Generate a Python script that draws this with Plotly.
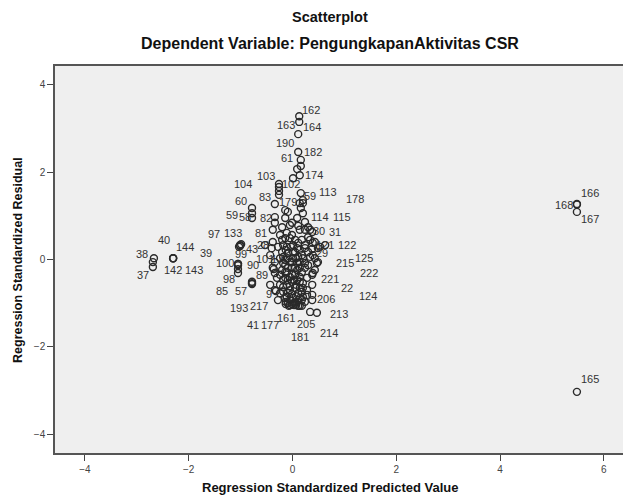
import plotly.graph_objects as go

# ---- labelled cases (case id, standardized predicted value, standardized residual)
labeled_cases = ["162","163","164","190","182","61","174","103","102","104","83","59","113","178","179",
                 "60","59","58","82","81","114","115","30","31","121","122","29","97","133","43","39","28",
                 "99","100","90","98","101","17","89","57","85","193","9","217","125","215","222","221",
                 "22","124","206","213","214","205","181","161","177","41","38","40","37","144","142","143",
                 "166","168","167","165"]
labeled_pred = [0.13,0.13,0.11,0.11,0.16,0.16,0.14,0.01,-0.26,-0.26,-0.26,0.16,0.20,0.20,0.14,
                -0.78,-0.78,-0.78,-0.34,-0.38,0.24,0.30,0.34,0.38,0.39,0.49,0.47,-1.01,-0.99,-1.01,-1.03,-0.38,
                -1.05,-1.05,-1.05,-1.05,-0.38,-0.18,-0.36,-0.78,-0.78,-0.78,-0.34,-0.32,0.49,0.43,0.39,0.38,
                0.38,0.38,0.18,0.47,0.34,0.18,0.11,-0.05,-0.13,-0.09,-2.67,-2.69,-2.69,-2.30,-2.30,-2.30,
                5.48,5.48,5.48,5.48]
labeled_resid = [3.28,3.15,2.87,2.46,2.28,2.14,1.93,1.86,1.73,1.66,1.48,1.52,1.36,1.29,1.29,
                 1.18,1.06,0.95,0.97,0.68,0.86,0.74,0.68,0.63,0.38,0.26,-0.08,0.33,0.35,0.31,0.29,0.40,
                 -0.13,-0.10,-0.22,-0.31,-0.19,0.06,-0.22,-0.51,-0.54,-0.56,-0.70,-0.72,-0.06,-0.24,-0.31,-0.35,
                 -0.58,-0.81,-0.93,-1.22,-1.20,-1.06,-1.06,-1.04,-1.02,-0.99,0.03,-0.06,-0.17,0.03,0.03,0.03,
                 1.27,1.26,1.09,-3.03]

# ---- unlabelled cases
other_pred = [0.09,-0.26,-0.34,-0.14,-0.09,0.16,0.20,-0.34,-0.14,-0.20,-0.01,0.09,0.14,-0.11,-0.05,0.05,
              0.01,-0.28,-0.53,0.24,-0.14,0.30,0.11,0.53,-0.40,-0.11,0.09,0.24,0.38,-0.09,0.01,0.09,-0.01,
              -0.11,0.05,0.18,0.24,0.30,0.28,0.14,-0.01,-0.11,0.05,0.18,0.28,-0.09,-0.18,0.01,0.11,-0.34,
              -0.30,-0.24,0.28,0.03,-0.01,0.07,0.14,-0.07,0.03,-0.14,-0.05,0.11,0.14,-0.14,0.05,0.14,-0.05,
              -0.14,0.09,0.20,-0.18,-0.05,0.11,-0.14,0.20,-0.24,-0.20,0.34,-0.20,0.05,0.18,0.30,-0.01,0.18,
              -0.20,-0.24,0.24,-0.05,0.11,0.34,0.43,0.63,0.39,0.43,-0.18,-0.43,-0.34,-0.24,-0.43,-0.28,0.38,
              0.24,-1.05,
              -0.09,-0.01,0.07,-0.09,0.09,-0.01,-0.14,0.14,0.03,-0.09,0.07,-0.05,0.14,-0.01,-0.11,0.07,
              0.14,-0.05,-0.13,0.09,0.01,0.14,-0.13,-0.03,0.20,0.24,-0.18,-0.24,0.20,-0.18]
other_resid = [2.07,1.57,1.27,1.13,1.09,1.18,1.06,0.84,0.95,0.74,0.84,0.95,0.68,0.61,0.49,0.45,
               0.33,0.29,0.33,0.33,0.49,0.51,0.38,0.29,0.26,0.29,0.26,0.26,0.24,0.15,0.03,-0.08,-0.19,
               -0.29,-0.35,-0.29,-0.19,-0.13,-0.42,-0.51,-0.51,-0.58,-0.65,-0.74,-0.81,-0.77,-0.74,-0.88,-0.93,-0.31,
               -0.42,-0.77,-0.70,-1.04,-1.02,-1.04,-1.06,-1.06,-0.99,-0.01,-0.06,0.06,-0.06,-0.13,-0.19,-0.19,-0.40,
               -0.42,-0.47,-0.54,-0.63,-0.70,-0.77,-0.88,-0.86,-0.58,-0.24,0.06,0.17,0.17,0.10,0.17,0.56,0.45,
               0.45,0.56,0.68,0.79,0.77,0.45,0.40,0.33,0.10,0.03,0.33,0.10,-0.06,0.03,-0.58,-0.93,-0.93,
               -0.97,-0.10,
               0.03,-0.06,0.03,-0.19,-0.24,-0.33,-0.29,-0.40,-0.47,-0.47,-0.58,-0.61,-0.65,-0.79,-0.86,-0.84,
               -0.88,-0.93,-0.97,-0.97,0.17,0.22,0.22,0.29,0.03,-0.08,-0.08,-0.35,-0.65,-0.47]

x_ticks = [-4, -2, 0, 2, 4, 6]
y_ticks = [-4, -2, 0, 2, 4]

# label offsets in pixels (dx right, dy down) -- styling only
label_offsets = [(12,-6),(-13,3),(14,-7),(-13,-9),(12,-8),(-14,-8),(14,0),(-27,-2),(12,0),(-36,-3),(-14,2),
                 (9,3),(25,-8),(52,-4),(-12,-1),(-11,-7),(-20,2),(-7,-1),(-9,1),(-12,3),(15,-5),(34,-10),
                 (9,1),(23,0),(12,2),(29,-3),(5,-10),(-26,-11),(-8,-11),(12,3),(-33,6),(-10,3),(3,-11),
                 (-13,-1),(15,-4),(-9,6),(-8,-9),(-6,2),(-12,6),(-11,9),(-30,8),(-13,24),(-6,4),(-17,15),
                 (46,-4),(30,-7),(56,0),(18,4),(35,3),(56,1),(24,-1),(22,1),(19,21),(4,18),(2,31),(-4,13),
                 (-16,21),(-35,22),(-12,-4),(11,-22),(-10,8),(12,-11),(0,12),(21,12),(13,-11),(-13,1),
                 (13,7),(13,-13)]

FONT = "Liberation Sans, Arial, sans-serif"
marker_style = dict(symbol="circle-open", size=7, color="#2a2a2a", line=dict(width=1.4, color="#2a2a2a"))

fig = go.Figure()
fig.add_trace(go.Scatter(x=other_pred, y=other_resid, mode="markers", marker=marker_style,
                         showlegend=False, hoverinfo="skip"))
fig.add_trace(go.Scatter(x=labeled_pred, y=labeled_resid, mode="markers", marker=marker_style,
                         text=labeled_cases, showlegend=False))

for lab, px, ry, (dx, dy) in zip(labeled_cases, labeled_pred, labeled_resid, label_offsets):
    fig.add_annotation(x=px, y=ry, xref="x", yref="y", text=lab, showarrow=False,
                       xshift=dx, yshift=-dy, font=dict(family=FONT, size=11, color="#333333"))

common = dict(xref="paper", yref="paper", showarrow=False, xanchor="center", yanchor="middle")
fig.add_annotation(text="<b>Scatterplot</b>", x=0.484, y=1.127,
                   font=dict(family=FONT, size=14.5, color="#111111"), **common)
fig.add_annotation(text="<b>Dependent Variable: PengungkapanAktivitas CSR</b>", x=0.484, y=1.059,
                   font=dict(family=FONT, size=16, color="#111111"), **common)
fig.add_annotation(text="<b>Regression Standardized Predicted Value</b>", x=0.484, y=-0.088,
                   font=dict(family=FONT, size=13, color="#111111"), **common)
fig.add_annotation(text="<b>Regression Standardized Residual</b>", x=-0.065, y=0.499, textangle=-90,
                   font=dict(family=FONT, size=12.5, color="#111111"), **common)

fig.update_layout(
    width=623, height=497,
    margin=dict(l=55, r=0, t=66, b=44, autoexpand=False),
    paper_bgcolor="white", plot_bgcolor="#efefef",
    font=dict(family=FONT, size=10, color="#333333"),
    xaxis=dict(range=[-4.576, 6.368], tickvals=x_ticks, ticks="outside", ticklen=6, tickcolor="#444",
               showgrid=False, zeroline=False, showline=True, linecolor="#555", linewidth=1.5,
               mirror=True, automargin=False, tickfont=dict(size=10, color="#444")),
    yaxis=dict(range=[-4.43, 4.43], tickvals=y_ticks, ticks="outside", ticklen=6, tickcolor="#444",
               showgrid=False, zeroline=False, showline=True, linecolor="#555", linewidth=1.5,
               automargin=False, tickfont=dict(size=10, color="#444")),
)

fig.write_html("out.html", config={"displayModeBar": False},
               post_script="document.body.style.margin='0';document.body.style.overflow='hidden';")
